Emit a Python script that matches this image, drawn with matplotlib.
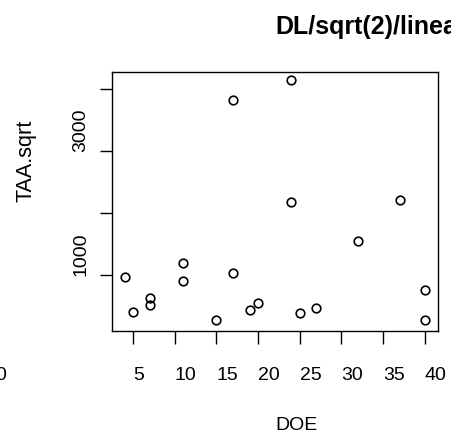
import matplotlib
matplotlib.use("Agg")
import matplotlib.pyplot as plt

# Data
doe = [4, 5, 7, 7, 11, 11, 15, 17, 17, 19, 20, 24, 24, 25, 27, 32, 37, 40, 40]
taa_sqrt = [973, 408, 624, 516, 1194, 898, 274, 3827, 1027, 435, 544, 4150, 2182,
            382, 463, 1543, 2215, 763, 274]

x_ticks = [5, 10, 15, 20, 25, 30, 35, 40]
x_tick_labels = ["5", "10", "15", "20", "25", "30", "35", "40"]
y_ticks = [1000, 2000, 3000, 4000]
y_tick_labels = ["1000", "", "3000", ""]

title = "DL/sqrt(2)/linear"
x_label = "DOE"
y_label = "TAA.sqrt"

W, H, DPI = 451, 439, 100
plt.rcParams['font.family'] = ['Liberation Sans', 'DejaVu Sans']

fig = plt.figure(figsize=(W / DPI, H / DPI), dpi=DPI)
left, right, top, bottom = 112, 438, 73, 332
ax = fig.add_axes([left / W, (H - bottom) / H, (right - left) / W, (bottom - top) / H])

ax.plot(doe, taa_sqrt, linestyle='none', marker='o', markersize=6.2,
        markerfacecolor='none', markeredgecolor='black', markeredgewidth=1.2)

ax.set_xlim(2.48, 41.6)
ax.set_ylim(97, 4274)

for s in ax.spines.values():
    s.set_linewidth(1.0)

ax.set_xticks(x_ticks)
ax.set_xticklabels(x_tick_labels, fontsize=14)
ax.set_yticks(y_ticks)
ax.set_yticklabels(y_tick_labels, fontsize=14)
ax.tick_params(axis='both', length=9, width=1.0, direction='out')
ax.tick_params(axis='x', pad=16.5)
ax.tick_params(axis='y', pad=7.5)
for lab in ax.get_xticklabels():
    lab.set_ha('left')
for lab in ax.get_yticklabels():
    lab.set_rotation(90)
    lab.set_va('bottom')
    lab.set_ha('right')

ax.set_xlabel(x_label, fontsize=14)
ax.xaxis.label.set_ha('left')
ax.xaxis.label.set_va('center')
ax.xaxis.set_label_coords(0.5, (bottom - 426) / (bottom - top))

ax.set_ylabel(y_label, fontsize=15.5)
ax.yaxis.label.set_rotation_mode('anchor')
ax.yaxis.label.set_ha('left')
ax.yaxis.label.set_va('center')
ax.yaxis.set_label_coords((26 - left) / (right - left), 0.5)

fig.text(275 / W, (H - 34) / H, title, ha='left', va='baseline',
         fontsize=18, fontweight='bold')

# partially visible tick label from a neighbouring panel
fig.text(7.5 / W, (H - 376) / H, "40", ha='right', va='center', fontsize=14)

fig.savefig("out.png", dpi=DPI)
